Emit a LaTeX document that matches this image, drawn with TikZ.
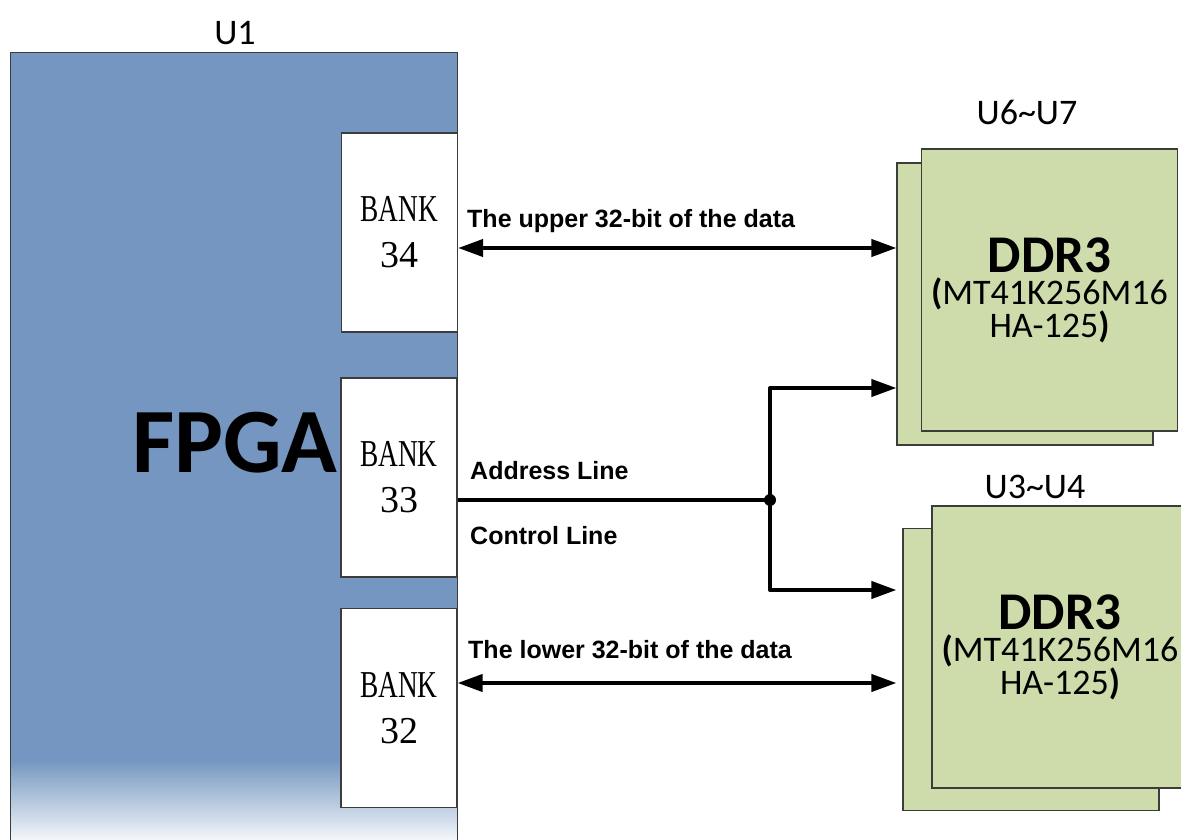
\documentclass[tikz,border=0pt]{standalone}
\usepackage{fontspec}
\setmainfont{Carlito}
\newfontfamily\arialfont{Liberation Sans}
\newfontfamily\serifnum{Liberation Serif}
\newfontfamily\bankfont[FakeStretch=0.72]{Liberation Serif}
\usetikzlibrary{positioning,arrows.meta,calc}
\definecolor{fpgablue}{RGB}{116,150,192}
\definecolor{ddrgreen}{RGB}{205,220,170}
\definecolor{chipgray}{RGB}{60,60,60}

\begin{document}
\begin{tikzpicture}[x=1pt,y=-1pt,
    >={Triangle[length=25pt,width=17pt]},
    bankbox/.style={draw=chipgray,line width=1.2pt,fill=white,minimum width=116pt,
      minimum height=199pt,inner sep=0pt,align=center,
      font=\bankfont\fontsize{38}{46}\selectfont},
    ddrchip/.style={draw=chipgray,line width=1.2pt,fill=ddrgreen,minimum width=256pt,
      minimum height=282pt,inner sep=0pt,align=center,
      font=\fontsize{36}{32}\selectfont},
    partname/.style={font=\fontsize{36}{40}\selectfont},
    buslabel/.style={anchor=base west,inner sep=0pt,
      font=\arialfont\bfseries\fontsize{25}{28}\selectfont},
    bus/.style={line width=4pt,line join=round},
    junction/.style={circle,fill,minimum size=12pt,inner sep=0pt}
  ]
  \useasboundingbox (0,0) rectangle (1181,840);

  % the FPGA body
  \node (fpga) at (234,446.5) [minimum width=446pt,minimum height=787pt,inner sep=0pt] {};
  \fill[fpgablue] (fpga.north west) rectangle (457,760);
  \shade[top color=fpgablue,bottom color=white!92!fpgablue] (11,760) rectangle (fpga.south east);
  \draw[chipgray,line width=1.2pt] (fpga.south west) -- (fpga.north west)
    -- (fpga.north east) -- (fpga.south east);
  \node[partname] (u1) at (235,33) {U1};
  \node[font=\bfseries\fontsize{92}{96}\selectfont] (fpgatext) at (235,443) {FPGA};

  % the banks
  \node[bankbox] (bank34) at (399.5,232.5) {BANK\\{\serifnum 34}};
  \node[bankbox] (bank33) at (399,477.5) {BANK\\{\serifnum 33}};
  \node[bankbox] (bank32) at (399,708) {BANK\\{\serifnum 32}};

  % the DDR3 chips
  \node[ddrchip] (ddrAback) at (1025,304) {};
  \node[ddrchip] (ddrA) at (1049.5,290)
    {{\fontsize{53}{32}\selectfont\bfseries DDR3}\\{\bfseries(}MT41K256M16\\HA-125{\bfseries)}};
  \node[partname] (u67) at (1027,112) {U6\textasciitilde U7};

  \node[ddrchip] (ddrBback) at (1031,669.5) {};
  \node[ddrchip] (ddrB) at (1060,647)
    {{\fontsize{53}{32}\selectfont\bfseries DDR3}\\{\bfseries(}MT41K256M16\\HA-125{\bfseries)}};
  \node[partname] (u34) at (1035,487) {U3\textasciitilde U4};

  % the buses
  \coordinate (hi) at (0,248);
  \coordinate (lo) at (0,683);
  \coordinate (addr) at (0,500);
  \coordinate (brA) at (0,388);
  \coordinate (brB) at (0,590);
  \node[junction] (split) at (770,500) {};

  \draw[bus,<->] (bank34.east |- hi) -- (ddrAback.west |- hi);
  \draw[bus,<->] (bank32.east |- lo) -- ([xshift=-6pt]ddrBback.west |- lo);
  \draw[bus] (bank33.east |- addr) -- (split.center);
  \draw[bus,->] (split.center) -- (split |- brA) -- (ddrAback.west |- brA);
  \draw[bus,->] (split.center) -- (split |- brB) -- ([xshift=-6pt]ddrBback.west |- brB);

  % the bus labels
  \node[buslabel] (hitext) at (467,227) {The upper 32-bit of the data};
  \node[buslabel] (addrtext) at (470,479) {Address Line};
  \node[buslabel] (ctrltext) at (470,544) {Control Line};
  \node[buslabel] (lotext) at (468,658) {The lower 32-bit of the data};
\end{tikzpicture}
\end{document}
